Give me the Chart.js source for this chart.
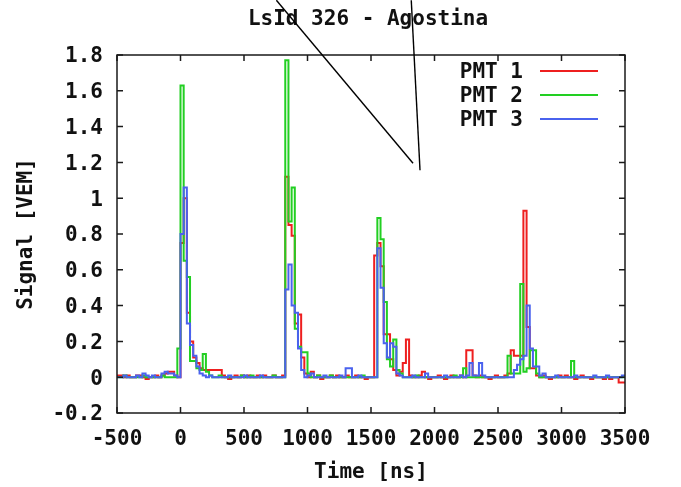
<!DOCTYPE html>
<html>
<head>
<meta charset="utf-8">
<title>LsId 326 - Agostina</title>
<script src="https://cdn.jsdelivr.net/npm/chart.js@4.4.1/dist/chart.umd.min.js"></script>
<style>
  html, body { margin: 0; padding: 0; background: #fff; }
  canvas { display: block; }
</style>
</head>
<body>
<canvas id="chart" width="681" height="487"></canvas>
<script>
// FADC traces, 25 ns bins starting at -500 ns (last value closes the final bin)
const binStart = -500;
const binWidth = 25;

const pmt1 = [
  0.01, 0.01, 0, 0.01, 0, 0, 0.01, 0.01, 0, -0.01, 0, 0, 0.01, 0, 0.01, 0.02, 0.03, 0.03, 0.01, 0,
  0.75, 1.0, 0.36, 0.2, 0.11, 0.08, 0.05, 0.04, 0.04, 0.04, 0.04, 0.04, 0.04, 0.01, 0, -0.01, 0, 0.01, 0, 0.01,
  0, 0.01, 0, 0, 0.01, 0, 0.01, 0, 0, 0.01, 0, 0, 0.01, 1.12, 0.85, 0.79, 0.3, 0.35, 0.11, 0.02,
  0, 0.03, 0, 0.01, -0.01, 0, 0, 0.01, 0, 0.01, 0, 0, 0.01, 0, 0, 0.01, 0, 0, -0.01, 0,
  0, 0.68, 0.75, 0.62, 0.24, 0.24, 0.1, 0.04, 0.01, 0.03, 0.08, 0.21, 0.01, 0, 0, 0.01, 0.03, 0, -0.01, 0,
  0, 0.01, 0, -0.01, 0, 0.01, 0, 0, 0.01, 0, 0.15, 0.15, 0.01, 0, 0.01, 0, 0, -0.01, 0, 0.01,
  0, 0, 0.01, 0.02, 0.15, 0.12, 0.12, 0.12, 0.93, 0.28, 0.05, 0.05, 0.01, 0, 0.01, 0, -0.01, 0, 0, 0.01,
  0, 0.01, 0, 0, -0.01, 0, 0.01, 0, 0, -0.01, 0, 0, 0, -0.01, 0, -0.01, 0, 0, -0.03, -0.03,
  -0.03
];

const pmt2 = [
  0, 0, 0.01, 0, 0, 0, 0, 0, 0.01, 0, 0, 0, 0, 0, 0.01, 0, 0, 0, 0, 0.16,
  1.63, 0.65, 0.56, 0.09, 0.09, 0.05, 0.04, 0.13, 0.03, 0.01, 0, 0, 0.01, 0, 0, 0, 0, 0, 0, 0.01,
  0, 0, 0.01, 0, 0, 0, 0, 0, 0, 0.01, 0, 0, 0, 1.77, 0.87, 1.06, 0.27, 0.17, 0.14, 0.14,
  0.02, 0, 0, 0.01, 0, 0, 0, 0.01, 0, 0, 0, 0, 0, 0, 0, 0, 0, 0.01, 0, 0,
  0, 0, 0.89, 0.77, 0.42, 0.1, 0.06, 0.21, 0.04, 0.02, 0, 0, 0, 0, 0.01, 0, 0, 0, 0, 0,
  0, 0, 0, 0, 0, 0, 0.01, 0, 0, 0.05, 0, 0, 0, 0, 0, 0, 0, 0, 0, 0,
  0, 0, 0, 0.12, 0.02, 0.02, 0.02, 0.52, 0.03, 0.05, 0.15, 0.15, 0.02, 0, 0, 0, 0, 0, 0, 0,
  0, 0, 0, 0.09, 0, 0, 0, 0, 0, 0, 0, 0, 0, 0, 0, 0, 0, 0, 0, 0,
  0
];

const pmt3 = [
  0, 0, 0.01, 0, 0, 0, 0.01, 0, 0.02, 0.01, 0, 0.01, 0, 0, 0.02, 0.03, 0.02, 0.02, 0.01, 0,
  0.8, 1.06, 0.3, 0.18, 0.12, 0.06, 0.02, 0.01, 0, 0.01, 0, 0, 0, 0, 0, 0.01, 0, 0, 0, 0,
  0.01, 0, 0, 0, 0, 0.01, 0, 0, 0, 0, 0, 0, 0, 0.49, 0.63, 0.4, 0.36, 0.16, 0.04, 0,
  0.01, 0.02, 0, 0, 0, 0.01, 0, 0, 0, 0, 0.01, 0, 0.05, 0.05, 0, 0, 0.01, 0, 0, 0,
  0, 0, 0.72, 0.5, 0.19, 0.11, 0.19, 0.17, 0.02, 0.01, 0, 0, 0, 0.01, 0, 0, 0, 0.02, 0, 0,
  0, 0, 0, 0.01, 0, 0, 0, 0, 0.01, 0, 0.01, 0.08, 0.01, 0.01, 0.08, 0.01, 0, 0, 0, 0,
  0, 0, 0, 0, 0, 0.04, 0.07, 0.1, 0.12, 0.4, 0.16, 0.06, 0.06, 0.01, 0.02, 0, 0, 0, 0.01, 0,
  0, 0, 0, 0, 0.01, 0, 0, 0, 0, 0, 0.01, 0, 0, 0, 0.01, 0, 0, 0, 0, 0.01,
  0.01
];

const seriesLabels = ["PMT 1", "PMT 2", "PMT 3"];
const seriesColors = ["#ee1f1f", "#22cf22", "#4a62ee"];

const xTicks = { min: -500, max: 3500, step: 500 };
const yTicks = { min: -0.2, max: 1.8, step: 0.2 };

// the two black pointer strokes, in data units [ns, VEM]
const pointerLines = [
  [[755, 2.106], [1831, 1.195]],
  [[1817, 2.106], [1886, 1.156]]
];

const FONT = "'DejaVu Sans Mono', monospace";
const FS = 21;

function toPoints(values) {
  return values.map((v, i) => ({ x: binStart + i * binWidth, y: v }));
}

// gnuplot-ish frame: box, inward ticks on all sides, title, legend, pointer strokes
const framePlugin = {
  id: "frame",
  afterDraw(chart) {
    const { ctx, chartArea: a, scales } = chart;
    const x = scales.x, y = scales.y;
    ctx.save();
    ctx.strokeStyle = "#1a1a1a";
    ctx.lineWidth = 1.5;
    ctx.strokeRect(a.left, a.top, a.right - a.left, a.bottom - a.top);
    ctx.beginPath();
    const tl = 6;
    x.ticks.forEach(t => {
      const px = x.getPixelForValue(t.value);
      ctx.moveTo(px, a.bottom); ctx.lineTo(px, a.bottom - tl);
      ctx.moveTo(px, a.top); ctx.lineTo(px, a.top + tl);
    });
    y.ticks.forEach(t => {
      const py = y.getPixelForValue(t.value);
      ctx.moveTo(a.left, py); ctx.lineTo(a.left + tl, py);
      ctx.moveTo(a.right, py); ctx.lineTo(a.right - tl, py);
    });
    ctx.stroke();

    // title
    ctx.fillStyle = "#111";
    ctx.font = "bold " + FS + "px " + FONT;
    ctx.textAlign = "center";
    ctx.textBaseline = "middle";
    ctx.fillText("LsId 326 - Agostina", (a.left + a.right) / 2 - 3, 20);

    // legend, top right inside the frame
    ctx.textAlign = "right";
    chart.data.datasets.forEach((ds, i) => {
      const ly = a.top + 16 + i * 24;
      ctx.fillStyle = "#111";
      ctx.fillText(ds.label, a.right - 102, ly + 2);
      ctx.strokeStyle = ds.borderColor;
      ctx.lineWidth = 2;
      ctx.beginPath();
      ctx.moveTo(a.right - 85, ly);
      ctx.lineTo(a.right - 27, ly);
      ctx.stroke();
    });

    // pointer strokes
    ctx.strokeStyle = "#000";
    ctx.lineWidth = 1.4;
    pointerLines.forEach(([p0, p1]) => {
      ctx.beginPath();
      ctx.moveTo(x.getPixelForValue(p0[0]), y.getPixelForValue(p0[1]));
      ctx.lineTo(x.getPixelForValue(p1[0]), y.getPixelForValue(p1[1]));
      ctx.stroke();
    });
    ctx.restore();
  }
};

const values = [pmt1, pmt2, pmt3];

new Chart(document.getElementById("chart"), {
  type: "line",
  data: {
    datasets: values.map((v, i) => ({
      label: seriesLabels[i],
      data: toPoints(v),
      borderColor: seriesColors[i],
      borderWidth: 2,
      stepped: true,
      pointRadius: 0,
      fill: false,
      order: 3 - i
    }))
  },
  options: {
    responsive: false,
    animation: false,
    layout: { padding: { top: 55, right: 56, left: 0, bottom: 0 } },
    plugins: {
      legend: { display: false },
      tooltip: { enabled: false },
      title: { display: false }
    },
    scales: {
      x: {
        type: "linear",
        min: xTicks.min,
        max: xTicks.max,
        border: { display: false },
        grid: { display: false, drawTicks: false },
        ticks: {
          stepSize: xTicks.step,
          padding: 14,
          color: "#111",
          maxRotation: 0,
          autoSkip: false,
          font: { family: FONT, size: FS, weight: "bold" },
          callback: v => String(v)
        },
        title: {
          display: true,
          text: "Time [ns]",
          color: "#111",
          padding: { top: 0, bottom: 2 },
          font: { family: FONT, size: FS, weight: "bold" }
        },
        afterFit(scale) { scale.height = 74; }
      },
      y: {
        min: yTicks.min,
        max: yTicks.max,
        border: { display: false },
        grid: { display: false, drawTicks: false },
        ticks: {
          stepSize: yTicks.step,
          padding: 14,
          labelOffset: 2,
          color: "#111",
          autoSkip: false,
          font: { family: FONT, size: FS, weight: "bold" },
          callback: v => String(Number(v.toFixed(1)))
        },
        title: {
          display: true,
          text: "Signal [VEM]",
          color: "#111",
          padding: { top: 14, bottom: 0 },
          font: { family: FONT, size: FS, weight: "bold" }
        },
        afterFit(scale) { scale.width = 117; }
      }
    }
  },
  plugins: [framePlugin]
});
</script>
</body>
</html>
